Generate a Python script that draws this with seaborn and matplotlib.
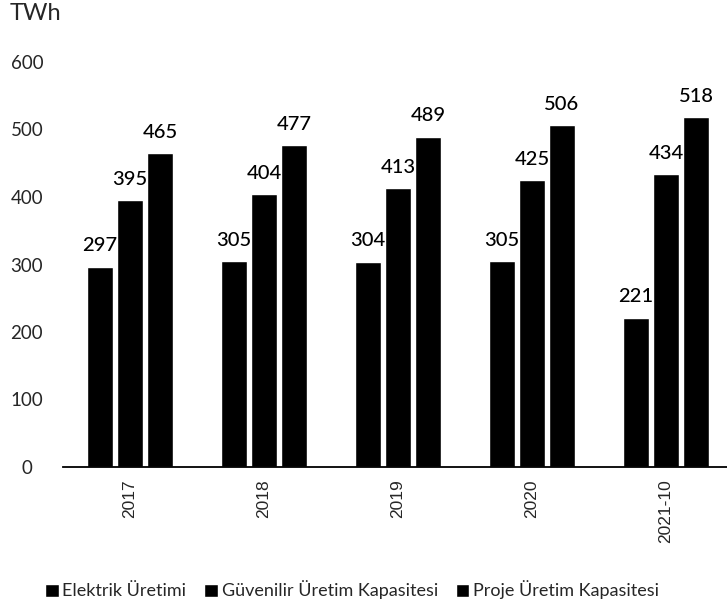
import pandas as pd
import matplotlib
matplotlib.use("Agg")
import matplotlib.pyplot as plt
import seaborn as sns

# values
years = ["2017", "2018", "2019", "2020", "2021-10"]
elektrik = [297, 305, 304, 305, 221]
guvenilir = [395, 404, 413, 425, 434]
proje = [465, 477, 489, 506, 518]
series_names = ["Elektrik Üretimi", "Güvenilir Üretim Kapasitesi", "Proje Üretim Kapasitesi"]
y_ticks = [0, 100, 200, 300, 400, 500, 600]

df = pd.DataFrame({
    "year": years * 3,
    "value": elektrik + guvenilir + proje,
    "series": [series_names[0]] * 5 + [series_names[1]] * 5 + [series_names[2]] * 5,
})

sns.set_style("white")
plt.rcParams["font.family"] = ["Lato", "DejaVu Sans"]

fig = plt.figure(figsize=(7.27, 6.12), dpi=100)
ax = fig.add_axes([63 / 727, 145 / 612, 1 - 63 / 727, 405 / 612])

sns.barplot(data=df, x="year", y="value", hue="series", palette=["black"] * 3,
            width=0.67, gap=0.15, ax=ax, legend=True)

for cont in ax.containers:
    ax.bar_label(cont, padding=9, fontsize=14.5, color="black", fontweight="medium")

ax.set_xlim(-0.5, 4.455)
ax.set_ylim(0, 600)
ax.set_yticks(y_ticks)
ax.set_ylabel("")
ax.set_xlabel("")
for side in ["left", "right", "top"]:
    ax.spines[side].set_visible(False)
ax.spines["bottom"].set_color("black")
ax.spines["bottom"].set_linewidth(1.3)

ax.tick_params(axis="y", length=0, pad=26, labelsize=13.5)
for lab in ax.get_yticklabels():
    lab.set_horizontalalignment("center")
ax.tick_params(axis="x", length=0, pad=9, labelsize=12.5, rotation=90)
for lab in ax.get_xticklabels():
    lab.set_fontfamily(["Liberation Sans", "DejaVu Sans"])

handles, labels = ax.get_legend_handles_labels()
ax.get_legend().remove()
fig.legend(handles, labels, loc="center left", bbox_to_anchor=(38 / 727, 22 / 612),
           ncol=3, frameon=False, handlelength=0.75, handleheight=0.75,
           handletextpad=0.2, columnspacing=1.0, borderaxespad=0,
           prop={"family": ["Lato", "DejaVu Sans"], "size": 13})

fig.text(10 / 727, 1 - 3 / 612, "TWh", ha="left", va="top", fontsize=17)

fig.savefig("out.png", dpi=100)
